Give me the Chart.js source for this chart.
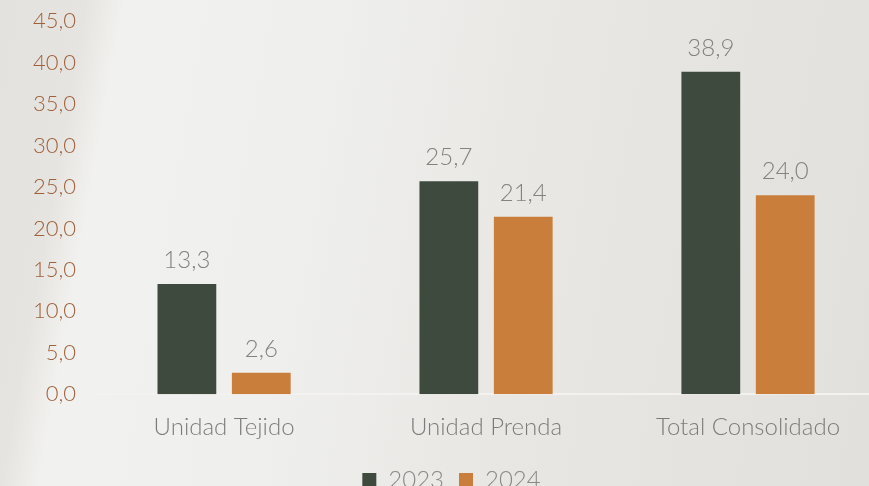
<!DOCTYPE html>
<html>
<head>
<meta charset="utf-8">
<script src="https://cdn.jsdelivr.net/npm/chart.js@4.4.1/dist/chart.umd.min.js"></script>
<style>
    html, body {
        margin: 0;
        padding: 0;
        width: 869px;
        height: 486px;
        overflow: hidden;
    }
    body {
        background: linear-gradient(100deg, #e4e2de 0%, #e6e4e0 9%, #f1f1ef 13%, #efefed 35%, #e8e7e4 60%, #e2e0dc 100%);
    }
    #wrap {
        position: absolute;
        left: 4px;
        top: -1px;
        width: 880px;
        height: 503px;
    }
</style>
</head>
<body>
<div id="wrap"><canvas id="bars"></canvas></div>
<script>
const categories = ["Unidad Tejido", "Unidad Prenda", "Total Consolidado"];
const values2023 = [13.3, 25.7, 38.9];
const values2024 = [2.6, 21.4, 24.0];
const yTicks = [0, 5, 10, 15, 20, 25, 30, 35, 40, 45];

const fmt = v => v.toFixed(1).replace(".", ",");

// labels on top of each bar
const valueLabels = {
    id: "valueLabels",
    afterDatasetsDraw(chart) {
        const ctx = chart.ctx;
        ctx.save();
        ctx.font = "300 24px Lato";
        ctx.fillStyle = "#83827f";
        ctx.textAlign = "center";
        ctx.textBaseline = "alphabetic";
        chart.data.datasets.forEach((ds, i) => {
            chart.getDatasetMeta(i).data.forEach((bar, j) => {
                ctx.fillText(fmt(ds.data[j]), bar.x, bar.y - 16);
            });
        });
        ctx.restore();
    }
};

const canvas = document.getElementById("bars");
const chart = new Chart(canvas, {
    type: "bar",
    data: {
        labels: categories,
        datasets: [{
            label: "2023",
            data: values2023,
            backgroundColor: "#3e4a3e",
            barPercentage: 0.79,
            categoryPercentage: 0.568
        }, {
            label: "2024",
            data: values2024,
            backgroundColor: "#c97f3b",
            barPercentage: 0.79,
            categoryPercentage: 0.568
        }]
    },
    options: {
        responsive: true,
        maintainAspectRatio: false,
        animation: false,
        layout: {
            padding: { left: 20, top: 5, right: 5, bottom: 0 }
        },
        plugins: {
            tooltip: { enabled: false },
            legend: {
                position: "bottom",
                labels: {
                    boxWidth: 14,
                    boxHeight: 14,
                    padding: 15,
                    color: "#8a8987",
                    font: { family: "Lato", size: 24, weight: "300" }
                }
            }
        },
        scales: {
            x: {
                grid: { display: false },
                border: { display: true, color: "#f3f2f0", width: 2 },
                ticks: {
                    color: "#7d7c7a",
                    padding: 11,
                    font: { family: "Lato", size: 24, weight: "300" }
                }
            },
            y: {
                min: 0,
                max: 45,
                afterBuildTicks: axis => {
                    axis.ticks = yTicks.map(v => ({ value: v }));
                },
                grid: { display: false },
                border: { display: false },
                ticks: {
                    color: "#a0613a",
                    padding: 9,
                    font: { family: "Lato", size: 22, weight: "300" },
                    callback: v => fmt(v)
                }
            }
        }
    },
    plugins: [valueLabels]
});
</script>
</body>
</html>
